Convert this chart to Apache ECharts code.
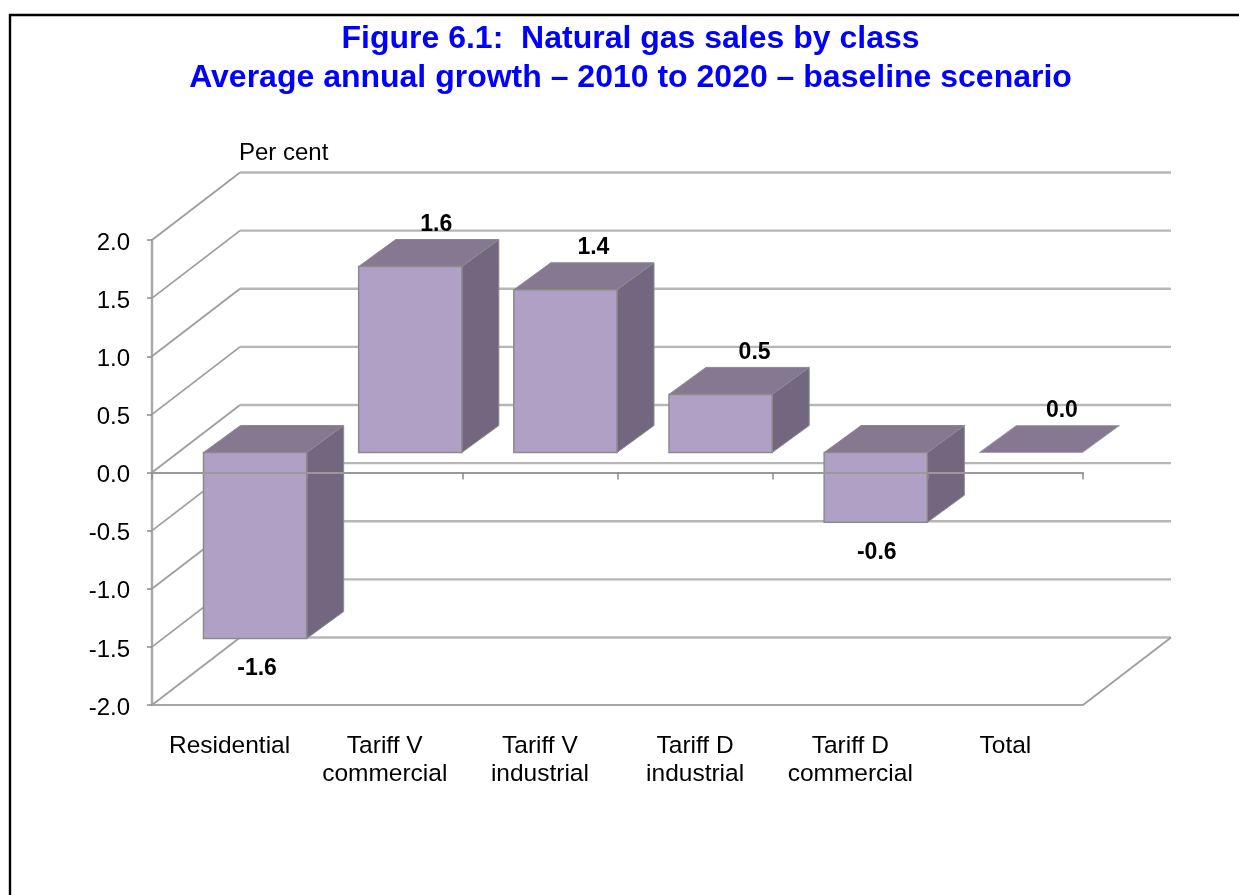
<!DOCTYPE html>
<html>
<head>
<meta charset="utf-8">
<style>html,body{margin:0;padding:0;background:#fff}#c{width:1239px;height:895px}</style>
<script src="https://cdn.jsdelivr.net/npm/echarts@6/dist/echarts.min.js"></script>
</head>
<body>
<div id="c"></div>
<script>
const titleText = 'Figure 6.1:  Natural gas sales by class\nAverage annual growth \u2013 2010 to 2020 \u2013 baseline scenario';
const unitText = 'Per cent';
const categories = ['Residential', 'Tariff V\ncommercial', 'Tariff V\nindustrial', 'Tariff D\nindustrial', 'Tariff D\ncommercial', 'Total'];
const growth = [-1.6, 1.6, 1.4, 0.5, -0.6, 0.0];
const yTicks = [-2, -1.5, -1, -0.5, 0, 0.5, 1, 1.5, 2];

const FONT = '"Liberation Sans", Arial, sans-serif';
const WALL_DX = 88, WALL_DY = -67.5;
const BAR_DX = 25.5, BAR_DY = -20, BAR_RATIO = 0.665, DEPTH_X = 37, DEPTH_Y = -27;
const LABEL_NUDGE = [2, 26, 28, 34, 1, 31];

const chart = echarts.init(document.getElementById('c'), null, {renderer: 'canvas'});

function renderWall(params, api) {
  const cs = params.coordSys;
  const v = api.value(1);
  const y = api.coord([0, v])[1];
  const x0 = cs.x, x1 = cs.x + cs.width;
  const children = [
    {type: 'line', shape: {x1: x0, y1: y, x2: x0 + WALL_DX, y2: y + WALL_DY},
      style: {stroke: '#9e9e9e', lineWidth: 1.8}},
    {type: 'line', shape: {x1: x0 + WALL_DX, y1: y + WALL_DY, x2: x1 + WALL_DX, y2: y + WALL_DY},
      style: {stroke: '#b6b6b6', lineWidth: 2.4}}
  ];
  if (v === yTicks[0]) {
    children.push({type: 'line', shape: {x1: x1, y1: y, x2: x1 + WALL_DX, y2: y + WALL_DY},
      style: {stroke: '#9e9e9e', lineWidth: 1.8}});
  }
  return {type: 'group', children: children};
}

function renderBar(params, api) {
  const i = api.value(0), v = api.value(1);
  const band = api.size([1, 0])[0];
  const w = band * BAR_RATIO;
  const xl = api.coord([i, 0])[0] - w / 2 + BAR_DX;
  const xr = xl + w;
  const y0 = api.coord([i, 0])[1] + BAR_DY;
  const yv = api.coord([i, v])[1] + BAR_DY;
  const top = Math.min(y0, yv), bot = Math.max(y0, yv);
  const edge = '#8b8b8b';
  const children = [];
  if (bot > top) {
    children.push({type: 'polygon', shape: {points: [[xr, top], [xr + DEPTH_X, top + DEPTH_Y], [xr + DEPTH_X, bot + DEPTH_Y], [xr, bot]]},
      style: {fill: '#73667f', stroke: edge, lineWidth: 1}});
  }
  children.push({type: 'polygon', shape: {points: [[xl, top], [xl + DEPTH_X, top + DEPTH_Y], [xr + DEPTH_X, top + DEPTH_Y], [xr, top]]},
    style: {fill: '#877892', stroke: bot > top ? edge : '#a9a0b0', lineWidth: 1}});
  if (bot > top) {
    children.push({type: 'rect', shape: {x: xl, y: top, width: w, height: bot - top},
      style: {fill: '#b0a0c5', stroke: edge, lineWidth: 1.5}});
  }
  const cx = xl + w / 2 + LABEL_NUDGE[i];
  const ly = v < 0 ? bot + 30 : top - 42;
  children.push({type: 'text', z2: 20, style: {x: cx, y: ly, text: v.toFixed(1), align: 'center', verticalAlign: 'middle',
    fill: '#000', font: 'bold 23px ' + FONT}});
  return {type: 'group', children: children};
}

chart.setOption({
  animation: false,
  backgroundColor: '#fff',
  title: [
    {text: titleText, left: 625.5, top: 15, textAlign: 'center',
      textStyle: {color: '#0000ff', fontFamily: FONT, fontWeight: 'bold', fontSize: 32, lineHeight: 39}},
    {text: unitText, left: 234, top: 136,
      textStyle: {color: '#000', fontFamily: FONT, fontWeight: 'normal', fontSize: 24}}
  ],
  grid: {left: 152, top: 240, width: 931, height: 465, containLabel: false},
  xAxis: [
    {type: 'category', data: categories, position: 'bottom', z: 6,
      axisLine: {show: true, onZero: true, lineStyle: {color: '#9a9a9a', width: 2}},
      axisTick: {show: true, length: 7, inside: false, alignWithLabel: false, lineStyle: {color: '#8c8c8c', width: 1.5}},
      axisLabel: {show: false}, splitLine: {show: false}},
    {type: 'category', data: categories, position: 'bottom',
      axisLine: {show: true, onZero: false, lineStyle: {color: '#a6a6a6', width: 2}},
      axisTick: {show: false},
      axisLabel: {show: true, interval: 0, margin: 27, color: '#000', fontFamily: FONT, fontSize: 24.5, lineHeight: 28, verticalAlign: 'top'},
      splitLine: {show: false}}
  ],
  yAxis: {type: 'value', min: -2, max: 2, interval: 0.5, position: 'left',
    axisLine: {show: true, onZero: false, lineStyle: {color: '#a8a8a8', width: 2.4}},
    axisTick: {show: true, length: 5, lineStyle: {color: '#8c8c8c', width: 1.5}},
    axisLabel: {margin: 22, color: '#000', fontFamily: FONT, fontSize: 24, verticalAlign: 'top', lineHeight: 6, formatter: v => v.toFixed(1)},
    splitLine: {show: false}},
  graphic: [{type: 'polyline', silent: true, shape: {points: [[10, 895], [10, 15], [1239, 15]]},
    style: {stroke: '#000', lineWidth: 2.4, fill: 'none'}}],
  series: [
    {type: 'custom', name: 'wall', z: 1, silent: true, clip: false, xAxisIndex: 0, yAxisIndex: 0,
      data: yTicks.map(v => [0, v]), encode: {x: 0, y: 1}, renderItem: renderWall},
    {type: 'custom', name: 'growth', z: 3, silent: true, clip: false, xAxisIndex: 0, yAxisIndex: 0,
      data: growth.map((v, i) => [i, v]), encode: {x: 0, y: 1}, renderItem: renderBar}
  ]
});
</script>
</body>
</html>
